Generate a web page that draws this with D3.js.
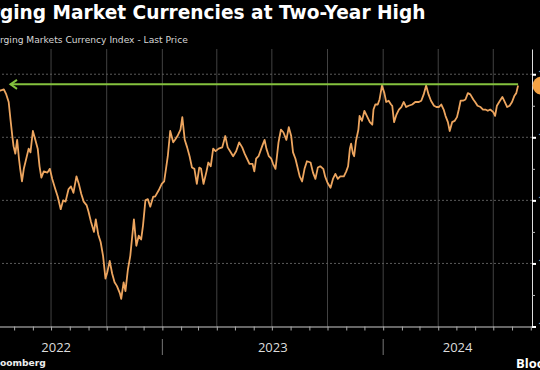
<!DOCTYPE html>
<html>
<head>
<meta charset="utf-8">
<script src="https://cdn.jsdelivr.net/npm/d3@7"></script>
<style>
  html, body { margin: 0; padding: 0; background: #000; overflow: hidden; }
  svg { display: block; }
</style>
</head>
<body>
<script>
// MSCI EM currency index
var dates = [
  '2022-01-17', '2022-02-01', '2022-02-15', '2022-03-01', '2022-03-15', '2022-03-29',
  '2022-04-08', '2022-04-14', '2022-04-18', '2022-04-22', '2022-04-25', '2022-04-28', '2022-04-30',
  '2022-05-03', '2022-05-06', '2022-05-09', '2022-05-11', '2022-05-14', '2022-05-17', '2022-05-21',
  '2022-05-25', '2022-05-28', '2022-06-01', '2022-06-05', '2022-06-09', '2022-06-12', '2022-06-15',
  '2022-06-19', '2022-06-25', '2022-06-29', '2022-07-03', '2022-07-08', '2022-07-12', '2022-07-17',
  '2022-07-21', '2022-07-25', '2022-07-30', '2022-08-03', '2022-08-07', '2022-08-12', '2022-08-16',
  '2022-08-20', '2022-08-24', '2022-08-29', '2022-09-01', '2022-09-05', '2022-09-10', '2022-09-13',
  '2022-09-17', '2022-09-21', '2022-09-25', '2022-09-29', '2022-10-02', '2022-10-06', '2022-10-10',
  '2022-10-14', '2022-10-18', '2022-10-23', '2022-10-25', '2022-10-29', '2022-11-01', '2022-11-05',
  '2022-11-09', '2022-11-15', '2022-11-19', '2022-11-23', '2022-11-27', '2022-11-30', '2022-12-04',
  '2022-12-08', '2022-12-12', '2022-12-17', '2022-12-20', '2022-12-26', '2022-12-31',
  '2023-01-04', '2023-01-07', '2023-01-10', '2023-01-14', '2023-01-19', '2023-01-22', '2023-01-26',
  '2023-01-31', '2023-02-03', '2023-02-07', '2023-02-11', '2023-02-15', '2023-02-19', '2023-02-23',
  '2023-02-27', '2023-03-03', '2023-03-06', '2023-03-10', '2023-03-15', '2023-03-18', '2023-03-22',
  '2023-03-26', '2023-03-30', '2023-04-04', '2023-04-10', '2023-04-15', '2023-04-19', '2023-04-23',
  '2023-04-28', '2023-05-03', '2023-05-08', '2023-05-13', '2023-05-17', '2023-05-21', '2023-05-25',
  '2023-05-30', '2023-06-02', '2023-06-05', '2023-06-09', '2023-06-15', '2023-06-19', '2023-06-22',
  '2023-06-26', '2023-06-30', '2023-07-03', '2023-07-07', '2023-07-09', '2023-07-12', '2023-07-16',
  '2023-07-20', '2023-07-25', '2023-07-29', '2023-08-02', '2023-08-05', '2023-08-09', '2023-08-12',
  '2023-08-16', '2023-08-20', '2023-08-24', '2023-08-28', '2023-09-03', '2023-09-07', '2023-09-11',
  '2023-09-15', '2023-09-19', '2023-09-24', '2023-09-27', '2023-10-01', '2023-10-06', '2023-10-10',
  '2023-10-14', '2023-10-18', '2023-10-22', '2023-10-28', '2023-11-01', '2023-11-04', '2023-11-07',
  '2023-11-09', '2023-11-12', '2023-11-14', '2023-11-17', '2023-11-21', '2023-11-23', '2023-11-27',
  '2023-12-01', '2023-12-05', '2023-12-10', '2023-12-14', '2023-12-16', '2023-12-19', '2023-12-23',
  '2023-12-26', '2023-12-30',
  '2024-01-03', '2024-01-06', '2024-01-10', '2024-01-14', '2024-01-16', '2024-01-19', '2024-01-23',
  '2024-01-27', '2024-01-31', '2024-02-04', '2024-02-08', '2024-02-12', '2024-02-18', '2024-02-23',
  '2024-02-29', '2024-03-04', '2024-03-08', '2024-03-12', '2024-03-16', '2024-03-20', '2024-03-25',
  '2024-03-29', '2024-04-02', '2024-04-06', '2024-04-10', '2024-04-13', '2024-04-17', '2024-04-20',
  '2024-04-24', '2024-04-28', '2024-05-02', '2024-05-05', '2024-05-08', '2024-05-12', '2024-05-16',
  '2024-05-20', '2024-05-24', '2024-05-29', '2024-06-01', '2024-06-05', '2024-06-10', '2024-06-14',
  '2024-06-18', '2024-06-22', '2024-06-26', '2024-07-01', '2024-07-04', '2024-07-07', '2024-07-12',
  '2024-07-16', '2024-07-19', '2024-07-24', '2024-07-28', '2024-08-01', '2024-08-05', '2024-08-08',
  '2024-08-11'
];
var values = [
  1734, 1730, 1736, 1732, 1738, 1740,
  1737, 1738, 1734, 1728, 1714, 1701, 1693,
  1687, 1698, 1683, 1675, 1665, 1675, 1683,
  1691, 1688, 1705, 1698, 1691, 1677, 1668,
  1673, 1672, 1675, 1667, 1659, 1653, 1643,
  1650, 1649, 1659, 1661, 1656, 1669, 1663,
  1655, 1649, 1646, 1641, 1633, 1625, 1635,
  1623, 1617, 1606, 1588, 1593, 1602, 1592,
  1585, 1582, 1576, 1572, 1585, 1578, 1595,
  1606, 1635, 1614, 1622, 1619, 1630, 1650,
  1651, 1645, 1653, 1653, 1658, 1663,
  1665, 1675, 1685, 1705, 1696, 1698, 1701,
  1706, 1716, 1698, 1692, 1685, 1676, 1675,
  1663, 1676, 1675, 1663, 1673, 1680, 1677,
  1691, 1689, 1691, 1692, 1701, 1692, 1689,
  1685, 1689, 1696, 1692, 1687, 1683, 1679,
  1679, 1673, 1683, 1685, 1693, 1698, 1691,
  1685, 1683, 1679, 1675, 1683, 1696, 1706,
  1704, 1698, 1708, 1701, 1688, 1683, 1677,
  1669, 1665, 1675, 1681, 1680, 1672, 1667,
  1676, 1677, 1675, 1669, 1664, 1660, 1667,
  1671, 1667, 1669, 1669, 1673, 1677, 1691,
  1695, 1687, 1685, 1697, 1706, 1717, 1713,
  1721, 1717, 1712, 1710, 1722, 1726, 1726,
  1730, 1741,
  1735, 1728, 1729, 1726, 1725, 1712, 1718,
  1722, 1724, 1728, 1724, 1725, 1726, 1728,
  1728, 1729, 1734, 1741, 1734, 1729, 1725,
  1724, 1724, 1726, 1722, 1717, 1712, 1705,
  1712, 1713, 1716, 1722, 1729, 1729, 1730,
  1735, 1734, 1730, 1728, 1725, 1724, 1722,
  1722, 1721, 1722, 1720, 1717, 1725, 1729,
  1732, 1729, 1724, 1725, 1728, 1733, 1735,
  1741
];
var yTicks = [1550, 1600, 1650, 1700, 1750];
var yMinorTicks = [1575, 1625, 1675, 1725];
var xDomain = ['2022-01-15', '2024-09-03'];
var years = ['2022', '2023', '2024'];
var prevHigh = 1742;
var prevHighDate = '2022-04-25';
var lastLabel = '1,741.20';

var title = 'Emerging Market Currencies at Two-Year High';
var subtitle = 'MSCI Emerging Markets Currency Index - Last Price';
var source = 'Source: Bloomberg';

var width = 540, height = 370;
var plotLeft = -50, plotRight = 532, plotTop = 49, plotBottom = 326.5;

var parse = d3.utcParse('%Y-%m-%d');
var data = dates.map(function (d, i) { return { date: parse(d), value: values[i] }; });

var x = d3.scaleUtc().domain(xDomain.map(parse)).range([plotLeft, plotRight]);
var y = d3.scaleLinear().domain([1550, 1770]).range([plotBottom, plotTop]);

var svg = d3.select('body').append('svg')
    .attr('width', width)
    .attr('height', height)
    .style('background', '#000');

// text that runs off the left edge, sized so the visible part fits
function croppedText(full, hidden, visibleWidth, baseSize, yPos, weight, fill) {
    var t = svg.append('text')
        .attr('y', yPos)
        .attr('font-family', '"DejaVu Sans", sans-serif')
        .attr('font-weight', weight)
        .attr('font-size', baseSize)
        .attr('fill', fill)
        .text(full);
    var w = t.node().getComputedTextLength();
    var tmp = svg.append('text')
        .attr('font-family', '"DejaVu Sans", sans-serif')
        .attr('font-weight', weight)
        .attr('font-size', baseSize)
        .text(hidden);
    var p = tmp.node().getComputedTextLength();
    tmp.remove();
    var size = baseSize * visibleWidth / (w - p);
    t.attr('font-size', size).attr('x', -p * size / baseSize);
}

croppedText(title, 'Emer', 426, 19, 19, 700, '#fff');
croppedText(subtitle, 'MSCI Eme', 188, 11, 43, 400, '#d6d6d6');
croppedText(source, 'Source: Bl', 46, 10, 366, 700, '#eee');

// quarter gridlines
svg.append('g').selectAll('line')
    .data(d3.utcMonth.every(3).range(x.domain()[0], x.domain()[1]))
  .enter().append('line')
    .attr('x1', function (d) { return x(d); })
    .attr('x2', function (d) { return x(d); })
    .attr('y1', plotTop)
    .attr('y2', plotBottom)
    .attr('stroke', '#424242')
    .attr('stroke-width', 1);

// value gridlines
svg.append('g').selectAll('line')
    .data(yTicks.slice(1))
  .enter().append('line')
    .attr('x1', plotLeft)
    .attr('x2', plotRight)
    .attr('y1', function (d) { return y(d); })
    .attr('y2', function (d) { return y(d); })
    .attr('stroke', '#5a5a5a')
    .attr('stroke-dasharray', '2,2')
    .attr('stroke-width', 1);

// x axis with monthly ticks
var xAxis = svg.append('g')
    .attr('transform', 'translate(0,' + plotBottom + ')')
    .call(d3.axisBottom(x).ticks(d3.utcMonth.every(1)).tickSize(4).tickSizeOuter(0).tickFormat(''));
xAxis.select('.domain').attr('stroke', '#ccc');
xAxis.selectAll('.tick line').attr('stroke', '#aaa');

// year separators and labels
var yearStarts = years.map(function (yr) { return parse(yr + '-01-01'); });
svg.append('g').selectAll('line')
    .data(yearStarts.slice(1))
  .enter().append('line')
    .attr('x1', function (d) { return x(d); })
    .attr('x2', function (d) { return x(d); })
    .attr('y1', 339)
    .attr('y2', 355)
    .attr('stroke', '#777');

svg.append('g').selectAll('text')
    .data(years)
  .enter().append('text')
    .attr('x', function (d, i) {
        var a = Math.max(x(yearStarts[i]), plotLeft);
        var b = i < years.length - 1 ? x(yearStarts[i + 1]) : plotRight;
        return (a + b) / 2;
    })
    .attr('y', 352)
    .attr('text-anchor', 'middle')
    .attr('font-family', '"Open Sans", sans-serif')
    .attr('font-size', 13)
    .attr('fill', '#ddd')
    .text(function (d) { return d; });

// right value axis
var yAxis = svg.append('g')
    .attr('transform', 'translate(' + plotRight + ',0)')
    .call(d3.axisRight(y).tickValues(yTicks).tickSize(4).tickSizeOuter(0).tickPadding(2).tickFormat(d3.format(',')));
yAxis.select('.domain').attr('stroke', '#ddd');
yAxis.selectAll('.tick line').attr('stroke', '#fff').attr('stroke-width', 2);
yAxis.selectAll('.tick text')
    .attr('fill', '#ddd')
    .attr('font-family', '"Open Sans", sans-serif')
    .attr('font-size', 10);

var yMinor = svg.append('g')
    .attr('transform', 'translate(' + plotRight + ',0)')
    .call(d3.axisRight(y).tickValues(yMinorTicks).tickSize(3).tickFormat(''));
yMinor.select('.domain').remove();
yMinor.selectAll('.tick line').attr('stroke', '#bbb');

// the series
var line = d3.line()
    .x(function (d) { return x(d.date); })
    .y(function (d) { return y(d.value); });

svg.append('path')
    .datum(data)
    .attr('d', line)
    .attr('fill', 'none')
    .attr('stroke', '#eda55f')
    .attr('stroke-width', 1.8)
    .attr('stroke-linejoin', 'round');

// green arrow back to the previous high
var lastDate = data[data.length - 1].date;
var ax = x(parse(prevHighDate));
var ay = y(prevHigh);
svg.append('line')
    .attr('x1', ax)
    .attr('x2', x(lastDate))
    .attr('y1', ay)
    .attr('y2', ay)
    .attr('stroke', '#84c23e')
    .attr('stroke-width', 2);
svg.append('path')
    .attr('d', 'M' + (ax + 6.5) + ',' + (ay - 4.5) + 'L' + ax + ',' + ay + 'L' + (ax + 6.5) + ',' + (ay + 4.5))
    .attr('fill', 'none')
    .attr('stroke', '#84c23e')
    .attr('stroke-width', 2);

// last value badge on the axis
var by = y(data[data.length - 1].value);
svg.append('rect')
    .attr('x', plotRight + 0.5)
    .attr('y', by - 9)
    .attr('width', 46)
    .attr('height', 18)
    .attr('rx', 9)
    .attr('fill', '#f4a244');
svg.append('text')
    .attr('x', plotRight + 8)
    .attr('y', by + 4)
    .attr('font-family', '"Open Sans", sans-serif')
    .attr('font-weight', 700)
    .attr('font-size', 10)
    .attr('fill', '#000')
    .text(lastLabel);

// logo text bottom right
svg.append('text')
    .attr('x', 516)
    .attr('y', 368)
    .attr('font-family', '"Open Sans", sans-serif')
    .attr('font-weight', 700)
    .attr('font-size', 13)
    .attr('fill', '#fff')
    .text('Bloomberg');
</script>
</body>
</html>
